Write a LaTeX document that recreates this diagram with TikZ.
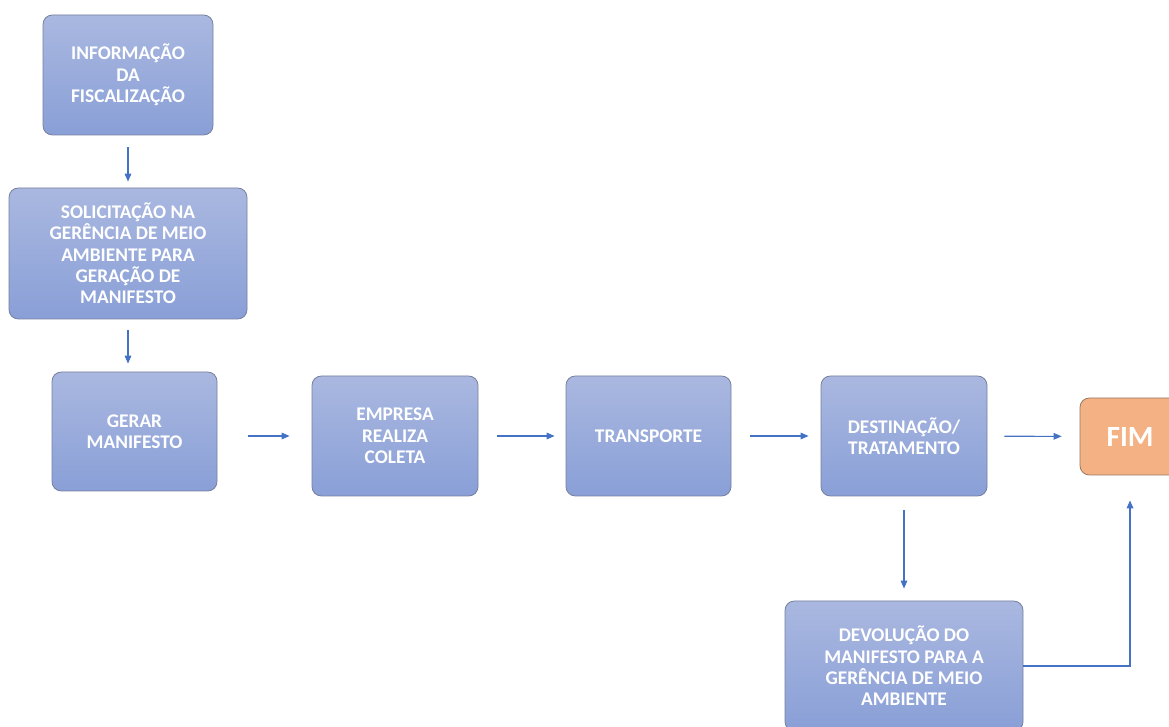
\documentclass[tikz,border=0pt]{standalone}
\usepackage{fontspec}
\setmainfont{Carlito}
\usetikzlibrary{arrows.meta}

\definecolor{boxtop}{RGB}{170,184,224}
\definecolor{boxbot}{RGB}{137,159,215}
\definecolor{boxline}{RGB}{118,128,158}
\definecolor{fimfill}{RGB}{244,177,131}
\definecolor{fimline}{RGB}{150,120,100}
\definecolor{seta}{RGB}{68,114,196}

\tikzset{
  etapa/.style={draw=boxline, line width=0.6pt, rounded corners=7pt,
    top color=boxtop, bottom color=boxbot, text=white, align=center,
    inner sep=0pt, font=\fontsize{14.5}{16}\selectfont\bfseries},
  fimbox/.style={draw=fimline, line width=0.6pt, rounded corners=7pt,
    fill=fimfill, text=white, inner sep=0pt,
    font=\fontsize{22}{26}\selectfont\bfseries},
  fluxo/.style={draw=seta, line width=0.8pt,
    -{Triangle[length=6pt,width=5pt]}}
}

\begin{document}
\begin{tikzpicture}[x=0.75pt,y=0.75pt]
\useasboundingbox (0,0) rectangle (1169,727);

% etapas
\node[etapa, minimum width=127.5pt, minimum height=90pt] (info) at (128,652)
  {INFORMAÇÃO\\DA\\FISCALIZAÇÃO};
\node[etapa, minimum width=178.5pt, minimum height=98.25pt] (solic) at (128,473.5)
  {SOLICITAÇÃO NA\\GERÊNCIA DE MEIO\\AMBIENTE PARA\\GERAÇÃO DE\\MANIFESTO};
\node[etapa, minimum width=123.75pt, minimum height=89.25pt] (gerar) at (134.5,295.5)
  {GERAR\\MANIFESTO};
\node[etapa, minimum width=124.5pt, minimum height=90pt] (coleta) at (395,291)
  {EMPRESA\\REALIZA\\COLETA};
\node[etapa, minimum width=123.75pt, minimum height=90pt] (transp) at (648.5,291)
  {TRANSPORTE};
\node[etapa, minimum width=124.5pt, minimum height=90pt] (destino) at (904,291)
  {DESTINAÇÃO/\\TRATAMENTO};
\node[fimbox, minimum width=75pt, minimum height=57.75pt] (fim) at (1130,290.5)
  {FIM};
\node[etapa, minimum width=178.5pt, minimum height=97.5pt] (devol) at (904,61)
  {DEVOLUÇÃO DO\\MANIFESTO PARA A\\GERÊNCIA DE MEIO\\AMBIENTE};

% setas
\draw[fluxo, shorten <=9pt, shorten >=4.5pt] (info) -- (solic);
\draw[fluxo, shorten <=8.25pt, shorten >=6pt] (solic.south) -- (solic.south |- gerar.north);
\draw[fluxo, shorten <=23.25pt, shorten >=16.5pt] (gerar.east |- coleta.west) -- (coleta.west);
\draw[fluxo, shorten <=14.25pt, shorten >=8.25pt] (coleta) -- (transp);
\draw[fluxo, shorten <=14.25pt, shorten >=9pt] (transp) -- (destino);
\draw[fluxo, shorten <=12.75pt, shorten >=13.5pt] (destino) -- (fim);
\draw[fluxo, shorten <=10.5pt, shorten >=9pt] (destino) -- (devol);
\draw[fluxo, shorten >=18.75pt] (devol.east) -| (fim.south);
\end{tikzpicture}
\end{document}
